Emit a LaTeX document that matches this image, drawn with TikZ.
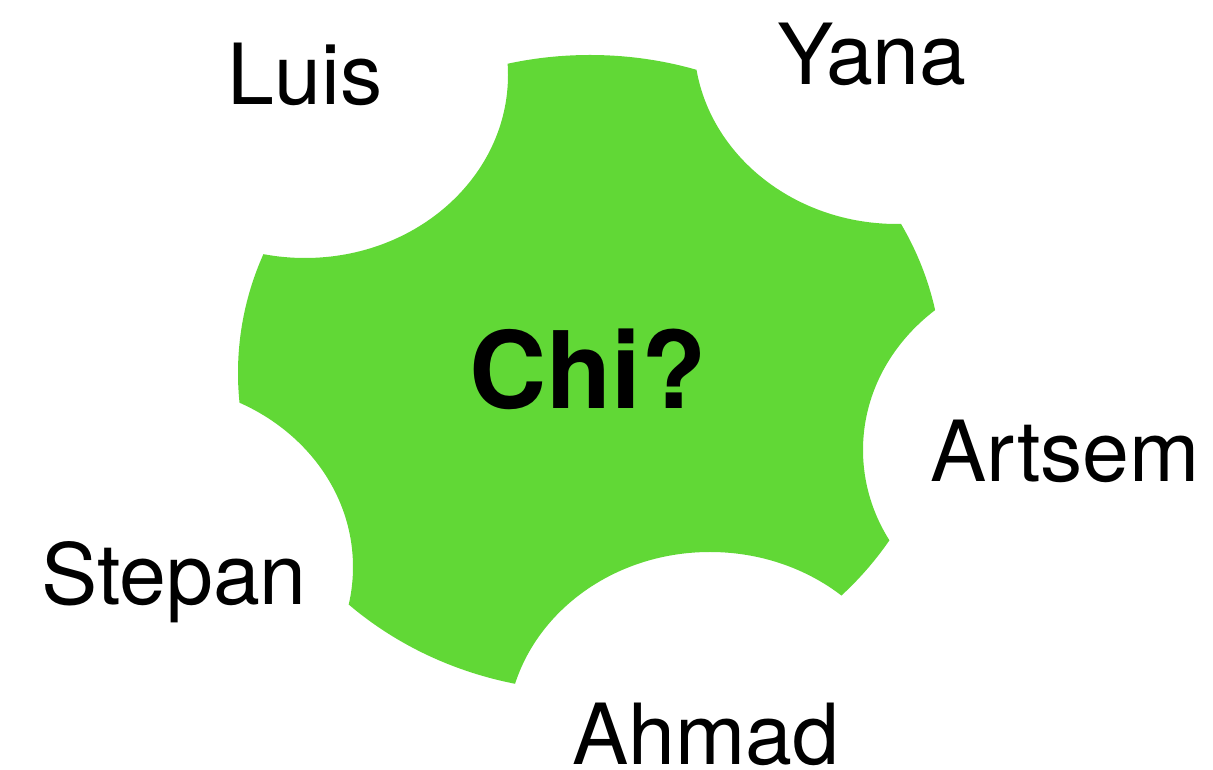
\documentclass[tikz,border=0pt]{standalone}
\usepackage{fontspec}
\setmainfont{TeX Gyre Heros}
\definecolor{Leaf}{RGB}{97,216,54}

\begin{document}
\begin{tikzpicture}[
  who/.style={font=\fontsize{60}{60}\selectfont, anchor=base, inner sep=0pt, text depth=0pt},
  ask/.style={font=\fontsize{76}{76}\selectfont\bfseries, anchor=base, inner sep=0pt},
  blob/.style={x radius=8.8, y radius=7.95},
  bite/.style={x radius=5.075, y radius=4.575}]
  \useasboundingbox (0,0) rectangle (30.325,19.25);
  % centres of the blob and of the five bites
  \coordinate (mid) at (14.75,9.925);
  \coordinate (bLuis) at (7.625,17.375);
  \coordinate (bYana) at (22.425,18.225);
  \coordinate (bArtsem) at (26.65,8.0);
  \coordinate (bAhmad) at (17.75,0.875);
  \coordinate (bStepan) at (3.75,5.075);
  \begin{scope}
    \clip (mid) ellipse [blob];
    \fill[Leaf, even odd rule] (0,0) rectangle (30.325,19.25)
      (bLuis) ellipse [bite] (bYana) ellipse [bite] (bArtsem) ellipse [bite]
      (bAhmad) ellipse [bite] (bStepan) ellipse [bite];
  \end{scope}
  \node[ask] (chi) at (14.7,9.025) {Chi?};
  \node[who] (luis) at (7.625,16.625) {Luis};
  \node[who] (yana) at (21.8,17.125) {Yana};
  \node[who] (artsem) at (26.625,7.2) {Artsem};
  \node[who] (ahmad) at (17.65,0.125) {Ahmad};
  \node[who] (stepan) at (4.35,4.125) {Stepan};
\end{tikzpicture}
\end{document}
